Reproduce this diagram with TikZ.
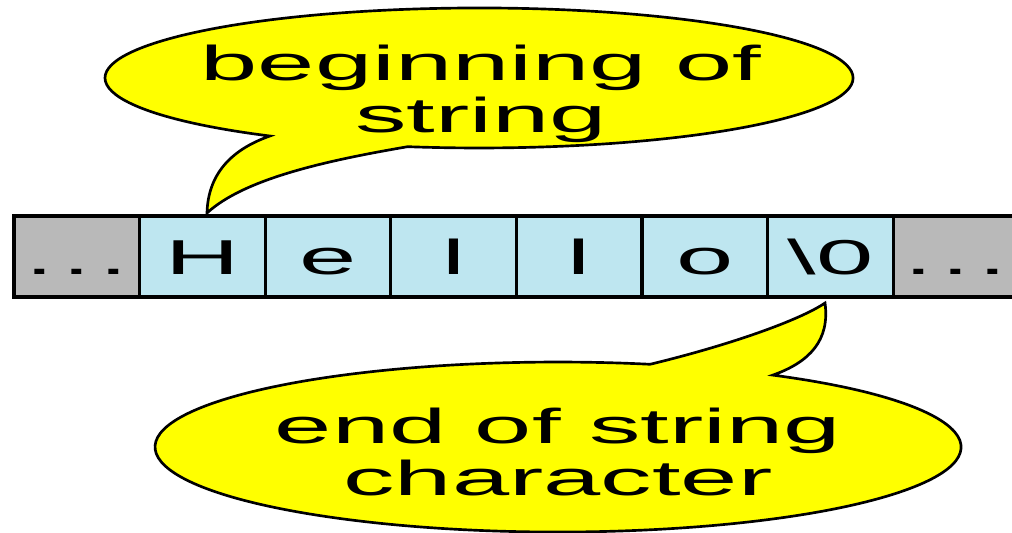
\documentclass[tikz,border=0pt]{standalone}
\usepackage{fontspec}
\setmainfont{Liberation Sans}
\usepackage{graphicx}

\definecolor{cellblue}{RGB}{190,230,240}
\definecolor{cellgrey}{RGB}{185,185,185}
\definecolor{calloutyellow}{RGB}{255,255,0}

% large, horizontally stretched lettering
\newcommand\bigletters{\fontsize{36.75}{39}\selectfont}
\newcommand\stretched[1]{\scalebox{2.1}[1]{#1}}

\begin{document}
\begin{tikzpicture}[x=0.75pt,y=-0.75pt,
  cell/.style={draw=black, line width=2.4pt, fill=cellblue,
    minimum width=94.2pt, minimum height=60.75pt,
    inner sep=0pt, outer sep=0pt,
    text height=26.5pt, text depth=0pt, font=\bigletters},
  filler/.style={cell, fill=cellgrey},
  callout/.style={draw=black, line width=2pt, fill=calloutyellow, line join=miter},
  callouttext/.style={anchor=base, inner sep=0pt, font=\bigletters}
]
\useasboundingbox (0,0) rectangle (1012,532);

% the character array
\node[filler] (c0) at (76.8,256.5)  {\stretched{.\kern3pt.\kern3pt.}};
\node[cell]   (c1) at (202.4,256.5) {\stretched{H}};
\node[cell]   (c2) at (328.0,256.5) {\stretched{e}};
\node[cell]   (c3) at (453.6,256.5) {\stretched{l}};
\node[cell]   (c4) at (579.2,256.5) {\stretched{l}};
\node[cell]   (c5) at (704.8,256.5) {\stretched{o}};
\node[cell]   (c6) at (830.4,256.5) {\stretched{\textbackslash 0}};
\node[filler] (c7) at (956.0,256.5) {\stretched{.\kern3pt.\kern3pt.}};

% callout pointing at the first character
\filldraw[callout] (269.9,136.0)
  arc[start angle=124, end angle=461, x radius=374, y radius=70]
  .. controls (330,160) and (245,178) .. (207,213)
  .. controls (208,175) and (230,150) .. cycle;
\node[callouttext] (begin) at (481,80)
  {\stretched{\begin{tabular}[t]{@{}c@{}}beginning of\\string\end{tabular}}};

% callout pointing at the terminator
\filldraw[callout] (772.8,375.1)
  arc[start angle=302.2, end angle=643.2, x radius=403, y radius=85]
  .. controls (730,345) and (800,320) .. (825,303)
  .. controls (830,340) and (810,362) .. cycle;
\node[callouttext] (end) at (558,443)
  {\stretched{\begin{tabular}[t]{@{}c@{}}end of string\\character\end{tabular}}};
\end{tikzpicture}
\end{document}
